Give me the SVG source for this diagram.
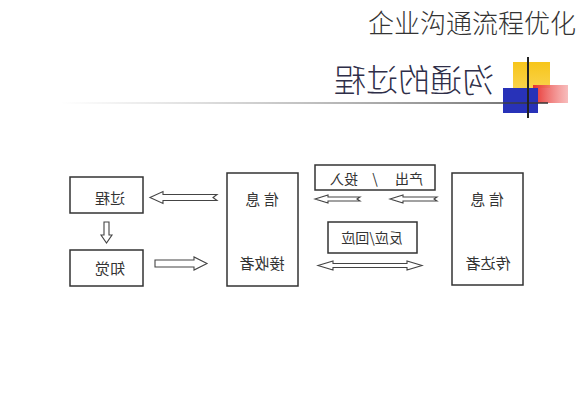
<svg xmlns="http://www.w3.org/2000/svg" width="577" height="400" viewBox="0 0 577 400">
<style>
.box{fill:#fff;stroke:#333;stroke-width:1.5}
.arr{fill:#fff;stroke:#444;stroke-width:1.1;stroke-linejoin:miter}
.t{font-family:"Noto Sans CJK SC","Noto Sans CJK JP",sans-serif;font-size:15px;fill:#333;text-anchor:middle;dominant-baseline:central}
</style>
<defs>
<linearGradient id="hl" x1="0" x2="1" y1="0" y2="0">
<stop offset="0" stop-color="#888" stop-opacity="0"/>
<stop offset="0.5" stop-color="#777" stop-opacity="0.6"/>
<stop offset="1" stop-color="#333"/>
</linearGradient>
<linearGradient id="red" x1="0" x2="1" y1="0" y2="0">
<stop offset="0" stop-color="#e8322e"/>
<stop offset="1" stop-color="#f4a0a0" stop-opacity="0.7"/>
</linearGradient>
<linearGradient id="yel" x1="0" x2="0" y1="0" y2="1">
<stop offset="0" stop-color="#f7c51a"/>
<stop offset="1" stop-color="#f9d24a"/>
</linearGradient>
</defs>
<rect width="577" height="400" fill="#fff"/>
<text x="576" y="21" style="font-family:'Noto Sans CJK SC',sans-serif;font-size:26px;font-weight:300;fill:#333;text-anchor:end;dominant-baseline:central">企业沟通流程优化</text>
<g id="header">
<rect x="513" y="62" width="37" height="26" fill="url(#yel)"/>
<rect x="533" y="85" width="35" height="18" fill="url(#red)"/>
<rect x="503" y="88" width="35" height="25" fill="#2832b8"/>
<rect x="60" y="102.25" width="488" height="1.5" fill="url(#hl)"/>
<line x1="528" y1="57" x2="528" y2="118" stroke="#222" stroke-width="2"/>
<text transform="scale(-1,1)" x="-414" y="78" style="font-family:'Noto Sans CJK SC',sans-serif;font-size:32px;font-weight:300;fill:#2e2e48;text-anchor:middle;dominant-baseline:central">沟通的过程</text>
</g>
<g id="process">
<rect class="box" x="70" y="177" width="73" height="36"/>
<text class="t" transform="scale(-1,1)" x="-110" y="197">过程</text>
</g>
<g id="perception">
<rect class="box" x="70" y="250" width="73" height="36"/>
<text class="t" transform="scale(-1,1)" x="-110" y="267">知觉</text>
</g>
<g id="receiver">
<rect class="box" x="227" y="173" width="71" height="113"/>
<text class="t" transform="scale(-1,1)" x="-262" y="198">信 息</text>
<text class="t" transform="scale(-1,1)" x="-262" y="262">接收者</text>
</g>
<g id="output-input">
<rect class="box" x="315" y="165" width="120" height="25"/>
<text class="t" transform="scale(-1,1)" y="178" style="font-size:14px"><tspan x="-409">产出</tspan><tspan x="-375">/</tspan><tspan x="-344">投入</tspan></text>
</g>
<g id="feedback">
<rect class="box" x="328" y="222" width="89" height="31"/>
<text class="t" transform="scale(-1,1)" x="-372" y="237" style="font-size:14px">反应/回应</text>
</g>
<g id="sender">
<rect class="box" x="452" y="173" width="71" height="112"/>
<text class="t" transform="scale(-1,1)" x="-487" y="198">信 息</text>
<text class="t" transform="scale(-1,1)" x="-488" y="262">传达者</text>
</g>
<g id="connectors">
<polygon class="arr" points="150,197.5 163,191.5 163,194.5 217,194.5 213,197.5 217,200.5 163,200.5 163,203.5"/>
<polygon class="arr" points="104,222 109,222 109,235 112,235 106.5,243 101,235 104,235"/>
<polygon class="arr" points="155,260 194,260 194,257 207,263.5 194,270 194,267 155,267"/>
<polygon class="arr" points="315,199 328,195 328,197 360,197 357,199 360,201 328,201 328,203"/>
<polygon class="arr" points="390,199 403,195 403,197 437,197 434,199 437,201 403,201 403,203"/>
<polygon class="arr" points="318,265.5 333,261 333,263.5 407,263.5 407,261 422,265.5 407,270 407,267.5 333,267.5 333,270"/>
</g>
</svg>
